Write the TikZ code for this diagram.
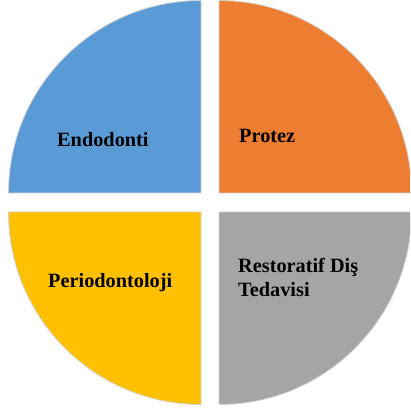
\documentclass[tikz,border=0pt]{standalone}
\usepackage{fontspec}
\setmainfont{Liberation Serif}
\begin{document}
\begin{tikzpicture}[x=1pt,y=1pt,
  sector/.style={draw=black!18,line width=0.8pt},
  lbl/.style={font=\fontsize{20.3}{24}\selectfont\bfseries,inner sep=0pt,anchor=base west,align=left,text=black}]
\useasboundingbox (0,0) rectangle (410,410);
\clip (0,0) rectangle (410,410);
\fill[white] (0,0) rectangle (410,410);
\coordinate (cb) at (201,217);
\coordinate (co) at (219,217);
\coordinate (cy) at (201,198);
\coordinate (cg) at (219,198);
\draw[sector,fill={rgb,255:red,91;green,155;blue,213}] (cb) -- ++(-192.5,0) arc (180:90:192.5) -- cycle;
\draw[sector,fill={rgb,255:red,237;green,125;blue,49}] (co) -- ++(0,192.5) arc (90:0:192.5) -- cycle;
\draw[sector,fill={rgb,255:red,255;green,192;blue,0}] (cy) -- ++(-192.5,0) arc (180:270:192.5) -- cycle;
\draw[sector,fill={rgb,255:red,165;green,165;blue,165}] (cg) -- ++(192.5,0) arc (0:-90:192.5) -- cycle;
\node[lbl] (endo) at (57,263) {Endodonti};
\node[lbl] (prot) at (239,267) {Protez};
\node[lbl] (perio) at (48,122) {Periodontoloji};
\node[lbl] (resto) at (238,113) {Restoratif Diş\\Tedavisi};
\end{tikzpicture}
\end{document}
